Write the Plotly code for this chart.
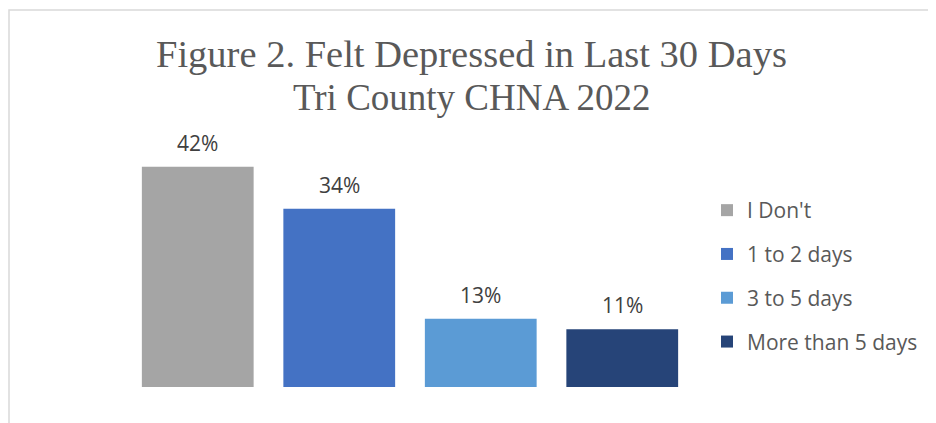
import plotly.graph_objects as go

categories = ["I Don't", "1 to 2 days", "3 to 5 days", "More than 5 days"]
values = [42, 34, 13, 11]
labels = ["42%", "34%", "13%", "11%"]
colors = ["#A5A5A5", "#4472C4", "#5B9BD5", "#264478"]
title_lines = ["Figure 2. Felt Depressed in Last 30 Days", "Tri County CHNA 2022"]
title_sizes = [38.5, 37]

# page has an 8px body margin, so the figure is sized to fit the window
W, H = 928, 415
ML, MR, MT, MB = 119, 243, 122, 36
YMAX = 49
pw = W - ML - MR
ph = H - MT - MB


def px_x(p):
    return (p - ML) / pw


def px_y(p):
    return (H - MB - p) / ph


fig = go.Figure()
for cat, val, col in zip(categories, values, colors):
    fig.add_trace(go.Bar(
        x=[cat], y=[val], name=cat, marker=dict(color=col, line=dict(width=0)),
        legendgroup=cat, hoverinfo="skip",
    ))

for cat, val, lab in zip(categories, values, labels):
    fig.add_annotation(x=cat, y=val, text=lab, showarrow=False, yshift=24,
                       font=dict(family="Open Sans", size=21, color="#404040"))

for line, py, sz in zip(title_lines, [46, 89], title_sizes):
    fig.add_annotation(xref="paper", yref="paper", x=px_x(463), y=px_y(py),
                       xanchor="center", yanchor="middle", text=line, showarrow=False,
                       font=dict(family="Liberation Serif", size=sz, color="#595959"))

fig.add_shape(type="rect", xref="paper", yref="paper",
              x0=px_x(1), x1=px_x(W + 20), y0=px_y(H + 20), y1=px_y(2),
              line=dict(color="#D9D9D9", width=1.5), fillcolor="rgba(0,0,0,0)", layer="below")

fig.update_layout(
    width=W, height=H,
    margin=dict(l=ML, r=MR, t=MT, b=MB),
    paper_bgcolor="white", plot_bgcolor="white",
    barmode="overlay", bargap=0.21,
    xaxis=dict(showticklabels=False, showgrid=False, zeroline=False, showline=False, ticks=""),
    yaxis=dict(range=[0, YMAX], showticklabels=False, showgrid=False, zeroline=False, showline=False, ticks=""),
    showlegend=True,
    legend=dict(x=px_x(699), xanchor="left", y=px_y(182), yanchor="top",
                font=dict(family="Open Sans", size=21, color="#595959"),
                tracegroupgap=13.5, bgcolor="rgba(0,0,0,0)", itemclick=False),
    font=dict(family="Open Sans"),
)

fig.write_html("out.html")
